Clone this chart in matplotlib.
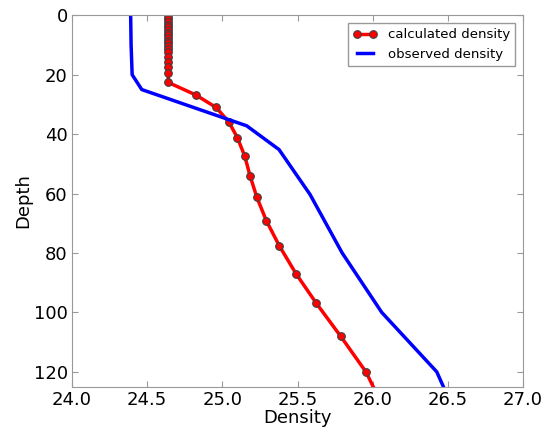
import matplotlib
matplotlib.use("Agg")
import matplotlib.pyplot as plt

# calculated density (model levels)
calc_depth = [0.5, 1.3, 2.2, 3.2, 4.0, 4.9, 5.8, 6.7, 7.6, 8.5, 9.4, 10.3,
              11.4, 12.5, 13.9, 15.6, 17.3, 19.5, 22.6, 26.8, 31.0, 35.9,
              41.2, 47.4, 54.0, 61.2, 69.2, 77.7, 87.0, 97.0, 108.1, 120.1, 133.0]
calc_dens = [24.64] * 19 + [24.823, 24.958, 25.043, 25.10, 25.149, 25.184,
                            25.229, 25.293, 25.38, 25.49, 25.626, 25.788,
                            25.956, 26.08]

# observed density
obs_depth = [0, 10, 20, 25, 37.2, 45.2, 60.3, 80, 100, 120, 125]
obs_dens = [24.39, 24.393, 24.40, 24.464, 25.162, 25.377, 25.583, 25.797,
            26.06, 26.426, 26.47]

plt.rcParams["font.family"] = "DejaVu Sans"

fig = plt.figure(figsize=(5.51, 4.32), dpi=100)
ax = fig.add_axes([0.1307, 0.1049, 0.8186, 0.8597])

ax.plot(calc_dens, calc_depth, color='red', linewidth=2.5, marker='o',
        markersize=5.5, markerfacecolor='red', markeredgecolor='0.25',
        markeredgewidth=0.8, label='calculated density')
ax.plot(obs_dens, obs_depth, color='blue', linewidth=2.5,
        label='observed density')

ax.set_xlim(24.0, 27.0)
ax.set_ylim(125, 0)
ax.set_xticks([24.0, 24.5, 25.0, 25.5, 26.0, 26.5, 27.0])
ax.set_yticks([0, 20, 40, 60, 80, 100, 120])
ax.tick_params(direction='in', top=True, right=True, labelsize=13,
               length=4, color='0.6', pad=3)
for s in ax.spines.values():
    s.set_color('0.6')
ax.set_xlabel('Density', fontsize=13, labelpad=0)
ax.set_ylabel('Depth', fontsize=13, labelpad=1)

leg = ax.legend(loc='upper right', fontsize=9.5, numpoints=2,
                fancybox=False, borderaxespad=0.6, handlelength=1.8)
leg.get_frame().set_edgecolor('0.5')

fig.savefig('out.png', dpi=100)
